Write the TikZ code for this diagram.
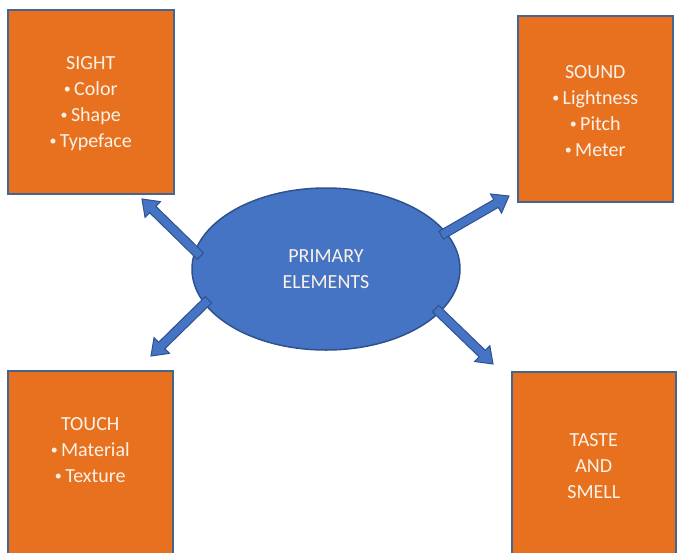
\documentclass[tikz,border=0pt]{standalone}
\usepackage{fontspec}
\setmainfont{Carlito}
\usepackage{tikz}
\usetikzlibrary{positioning,calc,shapes.geometric}
\usepackage{xcolor}
\definecolor{boxorange}{RGB}{232,113,32}
\definecolor{boxedge}{RGB}{68,100,145}
\definecolor{elmblue}{RGB}{70,116,196}
\definecolor{elmedge}{RGB}{47,82,143}
\definecolor{txtcream}{RGB}{250,242,232}
\newcommand{\sbul}{{\fontsize{14}{14}\selectfont\raisebox{1.5pt}{•}}\,}

\begin{document}
\begin{tikzpicture}[x=1pt,y=-1pt,
  sensebox/.style={draw=boxedge,line width=1.5pt,fill=boxorange,inner sep=0pt,anchor=north west},
  sensetext/.style={text=txtcream,align=center,inner sep=0pt,font=\fontsize{20}{26}\selectfont},
  blockarrow/.style={draw=elmedge,line width=1pt,fill=elmblue,line join=miter}]
\useasboundingbox (0,0) rectangle (677,552);
\clip (0,0) rectangle (677,552);
\fill[white] (0,0) rectangle (677,552);

% boxes
\node[sensebox,minimum width=166pt,minimum height=184pt] (sight) at (7,9) {};
\node[sensebox,minimum width=155pt,minimum height=186pt] (sound) at (517,15) {};
\node[sensebox,minimum width=165pt,minimum height=200pt] (touch) at (7,370) {};
\node[sensebox,minimum width=164pt,minimum height=200pt] (taste) at (511,371) {};

\node[sensetext,below=47pt of sight.north] (sightlbl) {SIGHT\\\sbul Color\\\sbul Shape\\\sbul Typeface};
\node[sensetext,below=50pt of sound.north] (soundlbl) {SOUND\\\sbul Lightness\\\sbul Pitch\\\sbul Meter};
\node[sensetext,below=47pt of touch.north] (touchlbl) {TOUCH\\\sbul Material\\\sbul Texture};
\node[sensetext,below=62pt of taste.north] (tastelbl) {TASTE\\AND\\SMELL};

% centre
\node[sensetext,ellipse,draw=elmedge,line width=1.5pt,fill=elmblue,
  minimum width=268pt,minimum height=162pt] (elm) at (326,269) {PRIMARY\\ELEMENTS};

% arrows out of the ellipse
\coordinate (t1) at (142,199);
\coordinate (t2) at (509,196);
\coordinate (t3) at (151,356);
\coordinate (t4) at (493,364);
\coordinate (s1) at ($(elm.172)!-8pt!(t1)$);
\coordinate (s2) at ($(elm.17)!-6pt!(t2)$);
\coordinate (s3) at ($(elm.196)!-6pt!(t3)$);
\coordinate (s4) at ($(elm.339)!-6pt!(t4)$);
\foreach \s/\t in {s1/t1,s2/t2,s3/t3,s4/t4}{
  \coordinate (hb) at ($(\t)!15pt!(\s)$);
  \draw[blockarrow] ($(\s)!4.5pt!90:(\t)$) -- ($(hb)!4.5pt!90:(\t)$)
    -- ($(hb)!11pt!90:(\t)$) -- (\t) -- ($(hb)!11pt!-90:(\t)$)
    -- ($(hb)!4.5pt!-90:(\t)$) -- ($(\s)!4.5pt!-90:(\t)$) -- cycle;
}
\end{tikzpicture}
\end{document}
